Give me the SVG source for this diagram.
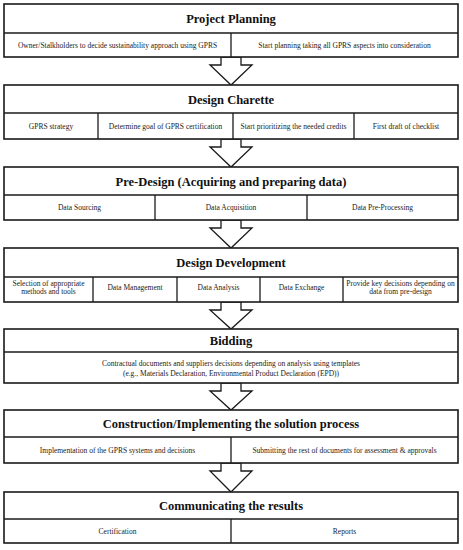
<svg xmlns="http://www.w3.org/2000/svg" width="463" height="550" viewBox="0 0 463 550">
<style>
.box{fill:#fff;stroke:#1a1a1a;stroke-width:1.6}
.ln{stroke:#1a1a1a;stroke-width:1.3;fill:none}
.t{font-family:"Liberation Serif","Times New Roman",serif;font-weight:bold;font-size:12.5px;fill:#111;text-anchor:middle}
.c{font-family:"Liberation Serif","Times New Roman",serif;font-size:7.5px;fill:#222;text-anchor:middle}
.ar{fill:#fff;stroke:#1a1a1a;stroke-width:1.3;stroke-linejoin:miter}
</style>
<rect width="463" height="550" fill="#fff"/>
<g id="connectors">
<polygon class="ar" points="221,57 221,65 210,65 231,85 252,65 241,65 241,57"/>
<polygon class="ar" points="221,139 221,147 210,147 231,167 252,147 241,147 241,139"/>
<polygon class="ar" points="221,220 221,228 210,228 231,248 252,228 241,228 241,220"/>
<polygon class="ar" points="221,302 221,310 210,310 231,329 252,310 241,310 241,302"/>
<polygon class="ar" points="221,383 221,391 210,391 231,410 252,391 241,391 241,383"/>
<polygon class="ar" points="221,463 221,471 210,471 231,492 252,471 241,471 241,463"/>
</g>
<g id="project-planning">
<rect class="box" x="4" y="4" width="454" height="53"/>
<line class="ln" x1="4" y1="33" x2="458" y2="33"/>
<line class="ln" x1="231" y1="33" x2="231" y2="57"/>
<text class="t" x="231" y="23">Project Planning</text>
<text class="c" x="117.5" y="47.5">Owner/Stalkholders to decide sustainability approach using GPRS</text>
<text class="c" x="344.5" y="47.5">Start planning taking all GPRS aspects into consideration</text>
</g>
<g id="design-charette">
<rect class="box" x="4" y="85" width="454" height="54"/>
<line class="ln" x1="4" y1="113" x2="458" y2="113"/>
<line class="ln" x1="98" y1="113" x2="98" y2="139"/>
<line class="ln" x1="233" y1="113" x2="233" y2="139"/>
<line class="ln" x1="354" y1="113" x2="354" y2="139"/>
<text class="t" x="231" y="103.5">Design Charette</text>
<text class="c" x="51" y="128.5">GPRS strategy</text>
<text class="c" x="165.5" y="128.5">Determine goal of GPRS certification</text>
<text class="c" x="293.5" y="128.5">Start prioritizing the needed credits</text>
<text class="c" x="406" y="128.5">First draft of checklist</text>
</g>
<g id="pre-design">
<rect class="box" x="4" y="167" width="454" height="53"/>
<line class="ln" x1="4" y1="195" x2="458" y2="195"/>
<line class="ln" x1="155" y1="195" x2="155" y2="220"/>
<line class="ln" x1="307" y1="195" x2="307" y2="220"/>
<text class="t" x="231" y="185.5">Pre-Design (Acquiring and preparing data)</text>
<text class="c" x="79.5" y="210">Data Sourcing</text>
<text class="c" x="231" y="210">Data Acquisition</text>
<text class="c" x="382.5" y="210">Data Pre-Processing</text>
</g>
<g id="design-development">
<rect class="box" x="4" y="248" width="454" height="54"/>
<line class="ln" x1="4" y1="277" x2="458" y2="277"/>
<line class="ln" x1="93" y1="277" x2="93" y2="302"/>
<line class="ln" x1="177" y1="277" x2="177" y2="302"/>
<line class="ln" x1="260" y1="277" x2="260" y2="302"/>
<line class="ln" x1="343" y1="277" x2="343" y2="302"/>
<text class="t" x="231" y="267">Design Development</text>
<text class="c" x="48.5" y="285.5">Selection of appropriate</text>
<text class="c" x="48.5" y="294">methods and tools</text>
<text class="c" x="135" y="290">Data Management</text>
<text class="c" x="218.5" y="290">Data Analysis</text>
<text class="c" x="301.5" y="290">Data Exchange</text>
<text class="c" x="400.5" y="285.5">Provide key decisions depending on</text>
<text class="c" x="400.5" y="294">data from pre-design</text>
</g>
<g id="bidding">
<rect class="box" x="4" y="329" width="454" height="54"/>
<line class="ln" x1="4" y1="352" x2="458" y2="352"/>
<text class="t" x="231" y="345">Bidding</text>
<text class="c" x="231" y="365.5">Contractual documents and suppliers decisions depending on analysis using templates</text>
<text class="c" x="231" y="375.5">(e.g., Materials Declaration, Environmental Product Declaration (EPD))</text>
</g>
<g id="construction">
<rect class="box" x="4" y="410" width="454" height="53"/>
<line class="ln" x1="4" y1="437" x2="458" y2="437"/>
<line class="ln" x1="231" y1="437" x2="231" y2="463"/>
<text class="t" x="231" y="428">Construction/Implementing the solution process</text>
<text class="c" x="117.5" y="452.5">Implementation of the GPRS systems and decisions</text>
<text class="c" x="344.5" y="452.5">Submitting the rest of documents for assessment &amp; approvals</text>
</g>
<g id="communicating">
<rect class="box" x="4" y="492" width="454" height="51"/>
<line class="ln" x1="4" y1="519" x2="458" y2="519"/>
<line class="ln" x1="231" y1="519" x2="231" y2="543"/>
<text class="t" x="231" y="510">Communicating the results</text>
<text class="c" x="117.5" y="533.5">Certification</text>
<text class="c" x="344.5" y="533.5">Reports</text>
</g>
</svg>
